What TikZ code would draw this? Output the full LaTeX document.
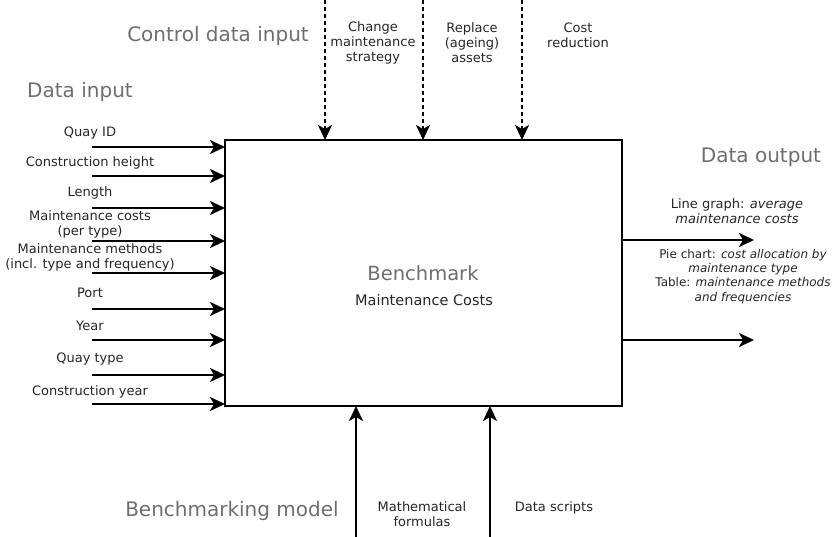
\documentclass[tikz,border=0pt]{standalone}
\usepackage{fontspec}
\setmainfont{DejaVu Sans}
\usetikzlibrary{arrows.meta}
\definecolor{headgray}{HTML}{6e6e6e}
\begin{document}
\begin{tikzpicture}[x=1pt,y=-1pt,
  lbl/.style={font=\fontsize{13}{15}\selectfont, align=center, inner sep=0pt, text=black!85},
  head/.style={font=\fontsize{20}{24}\selectfont, text=headgray, inner sep=0pt},
  arr/.style={line width=2.4pt, -{Stealth[length=15pt,width=14pt,inset=4pt]}},
  darr/.style={line width=2.4pt, dash pattern=on 4pt off 3pt, -{Stealth[length=15pt,width=14pt,inset=4pt]}}]
\useasboundingbox (0,0) rectangle (834,537);
% main box
\node[draw, line width=2.2pt, minimum width=397pt, minimum height=266pt, inner sep=0pt] (box) at (423.5,273) {};
\node[font=\fontsize{19.5}{22}\selectfont, text=headgray, inner sep=0pt] (bm) at (423,273) {Benchmark};
\node[font=\fontsize{14.5}{17}\selectfont, inner sep=0pt, text=black!85] (mc) at (424,300) {Maintenance Costs};
% headings
\node[head] (hcontrol) at (218,36) {Control data input};
\node[head] (hin) at (80,92) {Data input};
\node[head] (hout) at (761,157) {Data output};
\node[head] (hmodel) at (232,511) {Benchmarking model};
% inputs
\foreach \n/\y in {i1/147,i2/176,i3/208,i4/241,i5/273,i6/309,i7/340,i8/375,i9/404}{
  \coordinate (\n s) at (92,\y);
  \coordinate (\n e) at (225,\y);
  \draw[arr] (\n s) -- (\n e);
}
\node[lbl] (l1) at (90,133) {Quay ID};
\node[lbl] (l2) at (90,163) {Construction height};
\node[lbl] (l3) at (90,193) {Length};
\node[lbl] (l4) at (90,224.5) {Maintenance costs\\(per type)};
\node[lbl] (l5) at (90,257.5) {Maintenance methods\\(incl. type and frequency)};
\node[lbl] (l6) at (90,293) {Port};
\node[lbl] (l7) at (90,326) {Year};
\node[lbl] (l8) at (90,359) {Quay type};
\node[lbl] (l9) at (90,392) {Construction year};
% controls
\foreach \n/\x in {c1/325,c2/423,c3/522}{
  \coordinate (\n s) at (\x,0);
  \coordinate (\n e) at (\x,140);
  \draw[darr] (\n s) -- (\n e);
}
\node[lbl] (t1) at (373,43) {Change\\maintenance\\strategy};
\node[lbl] (t2) at (472,43) {Replace\\(ageing)\\assets};
\node[lbl] (t3) at (578,35.5) {Cost\\reduction};
% outputs
\coordinate (o1s) at (622,240);
\coordinate (o1e) at (754,240);
\coordinate (o2s) at (622,340);
\coordinate (o2e) at (754,340);
\draw[arr] (o1s) -- (o1e);
\draw[arr] (o2s) -- (o2e);
\node[lbl] (r1) at (737,211.5) {Line graph: \textit{average}\\\textit{maintenance costs}};
\node[lbl, font=\fontsize{12}{14.3}\selectfont] (r2) at (743,276.5) {Pie chart: \textit{cost allocation by}\\\textit{maintenance type}\\Table: \textit{maintenance methods}\\\textit{and frequencies}};
% mechanisms
\coordinate (m1s) at (356,537);
\coordinate (m1e) at (356,406);
\coordinate (m2s) at (490,537);
\coordinate (m2e) at (490,406);
\draw[arr] (m1s) -- (m1e);
\draw[arr] (m2s) -- (m2e);
\node[lbl] (b1) at (422,514.5) {Mathematical\\formulas};
\node[lbl] (b2) at (554,508) {Data scripts};
\end{tikzpicture}
\end{document}
